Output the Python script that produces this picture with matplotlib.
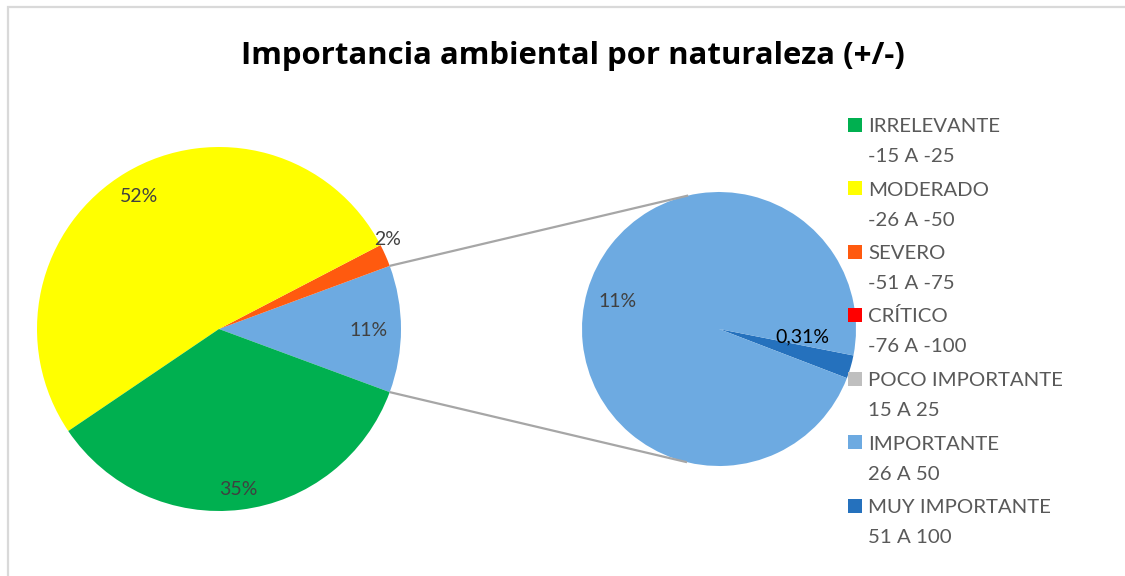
import numpy as np
import matplotlib.pyplot as plt
from matplotlib.patches import Rectangle

plt.rcParams['font.family'] = ['Lato', 'DejaVu Sans']

categorias = ['IRRELEVANTE', 'MODERADO', 'SEVERO', 'CRÍTICO',
              'POCO IMPORTANTE', 'IMPORTANTE', 'MUY IMPORTANTE']
rangos = ['-15 A -25', '-26 A -50', '-51 A -75', '-76 A -100',
          '15 A 25', '26 A 50', '51 A 100']
valores = [35, 52, 2, 0, 0, 11, 0.31]
colores = ['#00B050', '#FFFF00', '#FF5A0F', '#FF0000',
           '#BFBFBF', '#6DAAE1', '#2571BD']

W, H = 1125, 576
total = sum(valores)


def py(y):
    # pixel row -> data y (y axis points up)
    return H - y


def pct(v):
    p = v / total * 100
    if p < 1:
        return f'{p:.2f}'.replace('.', ',') + '%'
    return f'{p:.0f}%'


fig = plt.figure(figsize=(W / 100, H / 100), dpi=100)
ax = fig.add_axes([0, 0, 1, 1])

# pie principal: negativos + grupo "otros" (importante + muy importante)
otros = valores[5] + valores[6]
principal = [otros, valores[2], valores[1], valores[0]]
col_principal = [colores[5], colores[2], colores[1], colores[0]]
c1, r1 = (219, py(329)), 182
start1 = -otros / total * 360 / 2
w1, _ = ax.pie(principal, colors=col_principal, startangle=start1,
               center=c1, radius=r1, wedgeprops=dict(linewidth=0))

# pie secundario
secundario = [valores[6], valores[5]]
c2, r2 = (719, py(329)), 137
w2, _ = ax.pie(secundario, colors=[colores[6], colores[5]], startangle=-21,
               center=c2, radius=r2, wedgeprops=dict(linewidth=0))


def polar(c, r, ang):
    a = np.deg2rad(ang)
    return c[0] + r * np.cos(a), c[1] + r * np.sin(a)


lab_col = '#404040'
fs = 14
# etiquetas del pie principal: (radio relativo, desplazamiento angular)
pos1 = [(0.82, 0), (1.055, 4.5), (0.86, 0), (0.88, 0)]
for w, v, (rf, da) in zip(w1, principal, pos1):
    mid = (w.theta1 + w.theta2) / 2 + da
    x, y = polar(c1, r1 * rf, mid)
    ax.text(x, y - 7, pct(v), ha='center', va='baseline', fontsize=fs, color=lab_col)

pos2 = [(0.61, 11.5, 'black'), (0.77, 0, lab_col)]
for w, v, (rf, da, col) in zip(w2, secundario, pos2):
    mid = (w.theta1 + w.theta2) / 2 + da
    x, y = polar(c2, r2 * rf, mid)
    ax.text(x, y - 7, pct(v), ha='center', va='baseline', fontsize=fs, color=col)

# lineas de union
for ang1, ang2 in [(w1[0].theta2, 103), (w1[0].theta1, -103.5)]:
    x0, y0 = polar(c1, r1, ang1)
    x1, y1 = polar(c2, r2, ang2)
    ax.plot([x0, x1], [y0, y1], color='#A6A6A6', lw=1.6, solid_capstyle='butt')

# leyenda
for i, (cat, rng, col) in enumerate(zip(categorias, rangos, colores)):
    base = 132 + 63.5 * i
    ax.add_patch(Rectangle((848, py(base - 0.5)), 14, 14, facecolor=col, edgecolor='none'))
    ax.text(868, py(base), cat, fontsize=14.7, color='#595959', va='baseline')
    ax.text(868, py(base + 30), rng, fontsize=14.7, color='#595959', va='baseline')

ax.text(573, py(64), 'Importancia ambiental por naturaleza (+/-)', ha='center',
        va='baseline', fontsize=22.4, fontweight='bold', color='black',
        family=['Open Sans', 'DejaVu Sans'])

# marco del grafico
ax.add_patch(Rectangle((8, py(H + 10)), W + 10, H + 3, fill=False,
                       edgecolor='#D9D9D9', lw=1.6))

ax.set_xlim(0, W)
ax.set_ylim(0, H)
ax.axis('off')

fig.savefig('out.png', dpi=100)
